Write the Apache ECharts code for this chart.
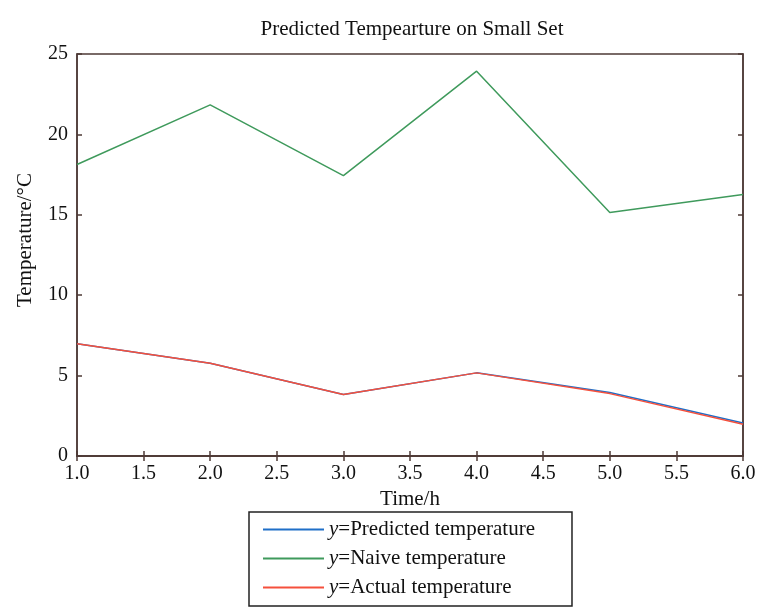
<!DOCTYPE html>
<html><head><meta charset="utf-8">
<script src="https://cdn.jsdelivr.net/npm/echarts@6/dist/echarts.min.js"></script>
<style>html,body{margin:0;padding:0;background:#fff}#c{width:770px;height:614px}</style>
</head><body><div id="c"></div>
<script>
var times = [1, 2, 3, 4, 5, 6];
var predicted = [6.98, 5.77, 3.82, 5.17, 3.95, 2.05];
var naive = [18.13, 21.84, 17.44, 23.93, 15.14, 16.26];
var actual = [6.98, 5.77, 3.82, 5.17, 3.88, 1.98];
var seriesNames = ['Predicted temperature', 'Naive temperature', 'Actual temperature'];
var title = 'Predicted Tempearture on Small Set';

function pairs(v){ return times.map(function(t,i){ return [t, v[i]]; }); }
var axisCol = '#4d3a36';
var font = 'Liberation Serif';
var fs = 20;
var chart = echarts.init(document.getElementById('c'));
chart.setOption({
  animation: false,
  backgroundColor: '#fff',
  textStyle: {fontFamily: font},
  title: {text: title, left: 407, textAlign: 'center', top: 14,
    textStyle: {fontFamily: font, fontSize: 21, fontWeight: 'normal', color: '#111'}},
  grid: {left: 77, right: 27, top: 54, bottom: 158, show: true, borderColor: axisCol, borderWidth: 1.5},
  legend: {
    orient: 'vertical', left: 249, top: 512,
    data: seriesNames, icon: 'rect',
    borderColor: '#222', borderWidth: 1.5, borderRadius: 0,
    padding: [7, 37, 8, 14], itemGap: 8, itemWidth: 61, itemHeight: 2,
    formatter: function(n){ return '{i|y}=' + n; },
    textStyle: {fontFamily: font, fontSize: 21, lineHeight: 21, color: '#111',
      rich: {i: {fontFamily: font, fontStyle: 'italic', fontSize: 21, lineHeight: 21, color: '#111'}}}
  },
  xAxis: [{
    type: 'value', min: 1, max: 6, interval: 0.5,
    name: 'Time/h', nameLocation: 'middle', nameGap: 30,
    nameTextStyle: {fontFamily: font, fontSize: 21, color: '#111'},
    axisLine: {lineStyle: {color: axisCol, width: 1.5}},
    axisTick: {inside: true, length: 5, lineStyle: {color: axisCol, width: 1.5}},
    axisLabel: {fontFamily: font, fontSize: fs, color: '#111', margin: 8,
      formatter: function(v){ return v.toFixed(1); }},
    splitLine: {show: false}
  }, {
    type: 'value', min: 1, max: 6, interval: 0.5, position: 'top',
    axisLine: {lineStyle: {color: axisCol, width: 1.5}},
    axisTick: {inside: true, length: 5, lineStyle: {color: axisCol, width: 1.5}},
    axisLabel: {show: false}, splitLine: {show: false}
  }],
  yAxis: [{
    type: 'value', min: 0, max: 25, interval: 5,
    name: 'Temperature/\u00b0C', nameLocation: 'middle', nameGap: 41,
    nameTextStyle: {fontFamily: font, fontSize: 21, color: '#111', padding: [0, 0, 0, 30]},
    axisLine: {show: true, lineStyle: {color: axisCol, width: 1.5}},
    axisTick: {show: true, inside: true, length: 5, lineStyle: {color: axisCol, width: 1.5}},
    axisLabel: {fontFamily: font, fontSize: fs, color: '#111', margin: 9},
    splitLine: {show: false}
  }, {
    type: 'value', min: 0, max: 25, interval: 5, position: 'right',
    axisLine: {show: true, lineStyle: {color: axisCol, width: 1.5}},
    axisTick: {show: true, inside: true, length: 5, lineStyle: {color: axisCol, width: 1.5}},
    axisLabel: {show: false}, splitLine: {show: false}
  }],
  series: [
    {name: seriesNames[0], type: 'line', data: pairs(predicted), symbol: 'none',
      lineStyle: {color: '#1f6fc8', width: 1.5}, itemStyle: {color: '#1f6fc8'}},
    {name: seriesNames[1], type: 'line', data: pairs(naive), symbol: 'none',
      lineStyle: {color: '#3f9a5c', width: 1.5}, itemStyle: {color: '#3f9a5c'}},
    {name: seriesNames[2], type: 'line', data: pairs(actual), symbol: 'none',
      lineStyle: {color: '#f5503c', width: 1.5}, itemStyle: {color: '#f5503c'}}
  ]
});
</script></body></html>
